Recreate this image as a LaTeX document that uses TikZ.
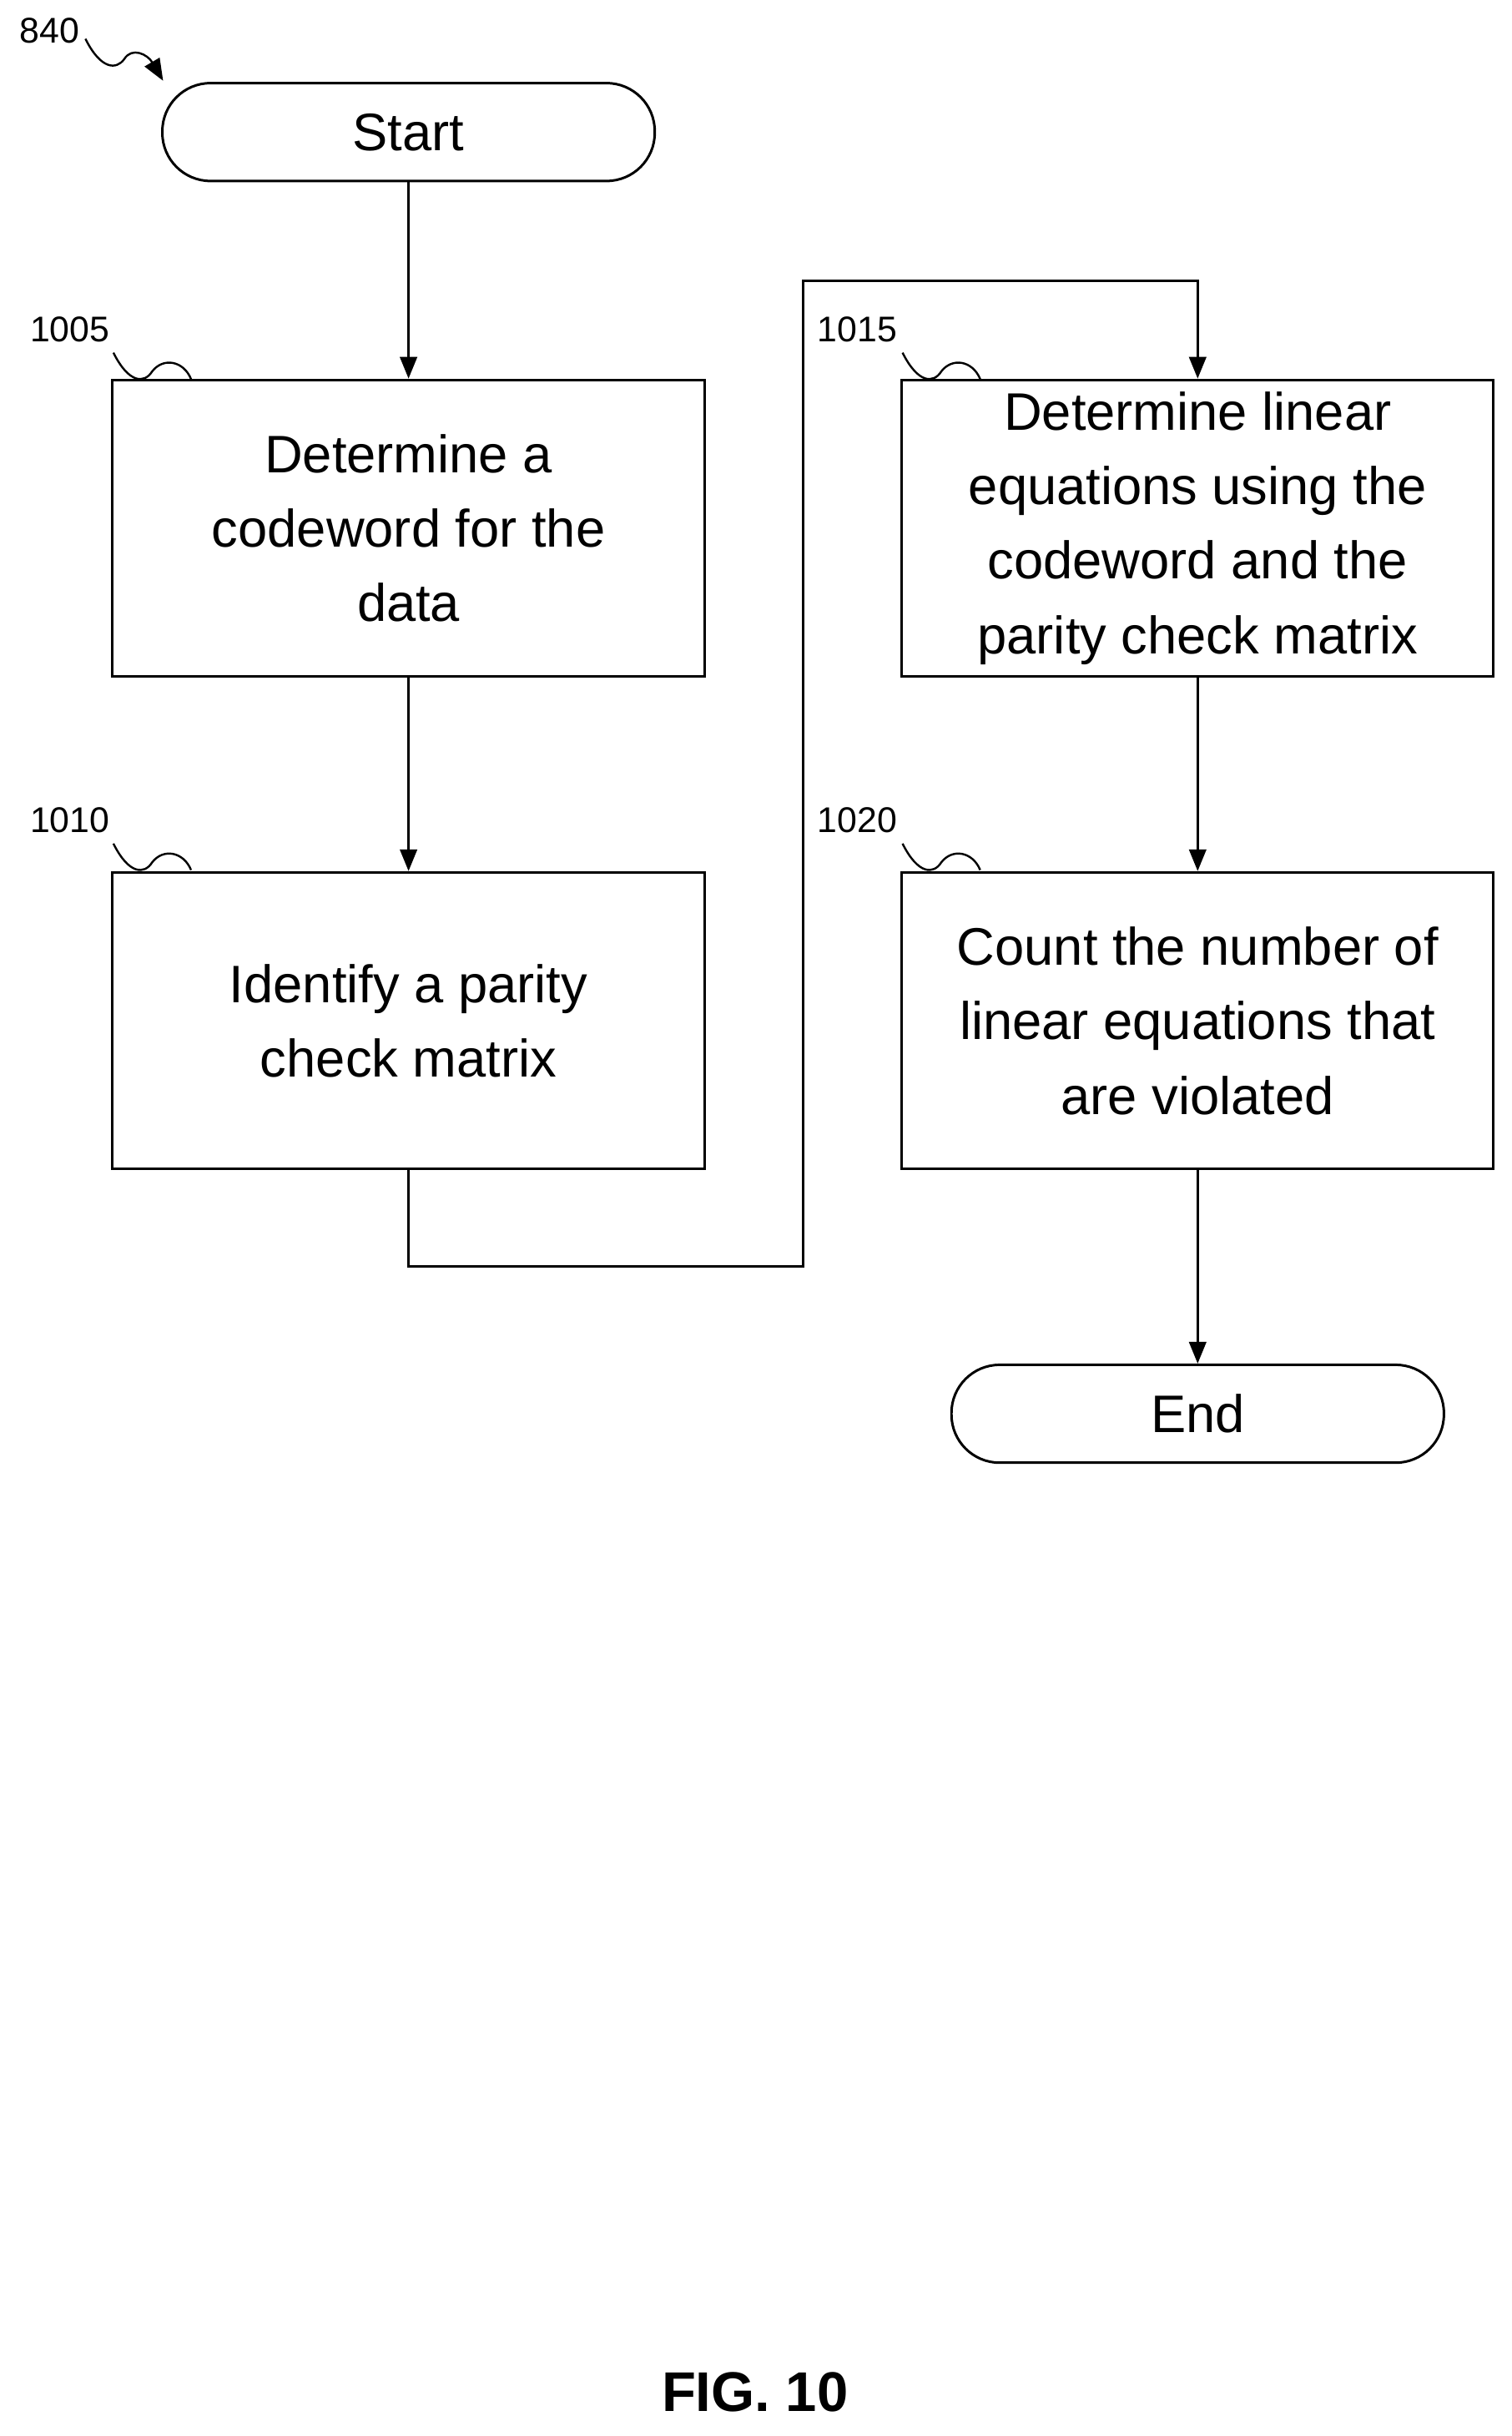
\documentclass[tikz,border=0pt]{standalone}
\usepackage{fontspec}
\setmainfont{Liberation Sans}
\usetikzlibrary{arrows.meta}
\begin{document}
\begin{tikzpicture}[x=1pt,y=-1pt,
  box/.style={draw,line width=1.6pt,minimum width=381pt,minimum height=191pt,align=center,font=\fontsize{34}{48}\selectfont,inner sep=2pt},
  term/.style={draw,line width=1.6pt,rounded corners=31pt,minimum width=317pt,minimum height=63pt,font=\fontsize{34}{40}\selectfont},
  lab/.style={font=\fontsize{23}{26}\selectfont},
  conn/.style={line width=1.6pt,-{Triangle[length=14pt,width=11pt]}},
  sq/.style={line width=1.3pt}]
\useasboundingbox (0,0) rectangle (973,1568);
\node[term] (start) at (263,85) {Start};
\node[box] (b1005) at (263,340) {Determine a\\codeword for the\\data};
\node[box] (b1010) at (263,657) {Identify a parity\\check matrix};
\node[box] (b1015) at (771,340) {Determine linear\\equations using the\\codeword and the\\parity check matrix};
\node[box] (b1020) at (771,657) {Count the number of\\linear equations that\\are violated};
\node[term] (end) at (771,910) {End};
\draw[conn] (start) -- (b1005);
\draw[conn] (b1005) -- (b1010);
\draw[conn] (b1010.south) -- (263,815) -- (517,815) -- (517,181) -- (771,181) -- (b1015.north);
\draw[conn] (b1015) -- (b1020);
\draw[conn] (b1020) -- (end);
\node[lab] (l840) at (32,20) {840};
\node[lab] (l1005) at (45,212) {1005};
\node[lab] (l1010) at (45,528) {1010};
\node[lab] (l1015) at (552,212) {1015};
\node[lab] (l1020) at (552,528) {1020};
\coordinate (a840) at (105,52);
\draw[sq,-{Triangle[length=14pt,width=11pt]}] (55,25) .. controls (65,45) and (75,45) .. (80,38) .. controls (85,30) and (95,35) .. (a840);
\foreach \n/\x/\y in {1005/73/212,1010/73/528,1015/581/212,1020/581/528}{
  \draw[sq] (\x,\y+15) .. controls (\x+10,\y+35) and (\x+20,\y+35) .. (\x+25,\y+27) .. controls (\x+32,\y+18) and (\x+45,\y+20) .. (\x+50,\y+32);
}
\node[font=\bfseries\fontsize{36}{40}\selectfont] (fig) at (486,1540) {FIG. 10};
\end{tikzpicture}
\end{document}
